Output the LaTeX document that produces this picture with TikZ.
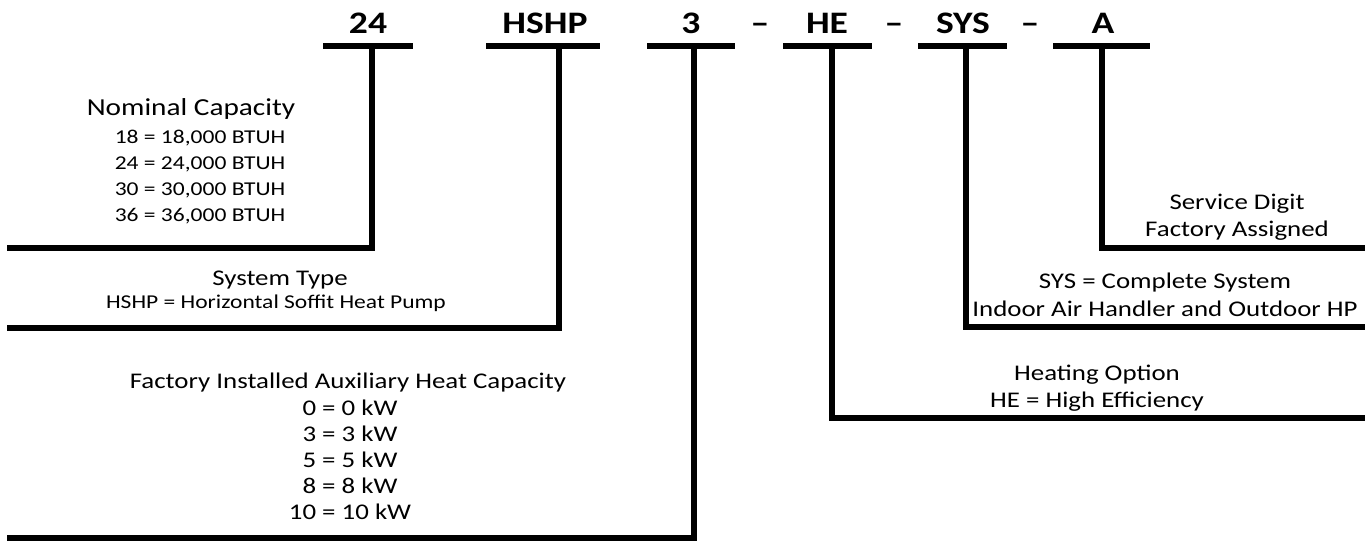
\documentclass[tikz,border=0pt]{standalone}
\usepackage{fontspec}
\setmainfont{Carlito}[FakeStretch=1.2]
\begin{document}
\begin{tikzpicture}[x=1pt,y=-1pt,
  bar/.style={line width=6pt},
  lead/.style={line width=6pt, line join=miter},
  code/.style={font=\fontsize{31.3}{36}\selectfont\bfseries, anchor=base, inner sep=0pt},
  desc/.style={font=\fontsize{22.4}{27}\selectfont, anchor=base, inner sep=0pt},
  mid/.style={font=\fontsize{19.6}{24}\selectfont, anchor=base, inner sep=0pt},
  big/.style={font=\fontsize{24.4}{29}\selectfont, anchor=base, inner sep=0pt}]
\useasboundingbox (0,0) rectangle (1365,541);

% code letters
\node[code] (n24)   at (368,33) {24};
\node[code] (nHSHP) at (545,33) {HSHP};
\node[code] (n3)    at (691,33) {3};
\node[code] (d1)    at (760,33) {–};
\node[code] (nHE)   at (827,33) {HE};
\node[code] (d2)    at (894,33) {–};
\node[code] (nSYS)  at (963,33) {SYS};
\node[code] (d3)    at (1030,33) {–};
\node[code] (nA)    at (1103,33) {A};

% bars
\coordinate (b24l) at (323,46);  \coordinate (b24r) at (413,46);
\coordinate (bHl)  at (486,46);  \coordinate (bHr)  at (600,46);
\coordinate (b3l)  at (647,46);  \coordinate (b3r)  at (735,46);
\coordinate (bEl)  at (783,46);  \coordinate (bEr)  at (872,46);
\coordinate (bSl)  at (918,46);  \coordinate (bSr)  at (1007,46);
\coordinate (bAl)  at (1053,46); \coordinate (bAr)  at (1150,46);
\foreach \l/\r in {b24l/b24r,bHl/bHr,b3l/b3r,bEl/bEr,bSl/bSr,bAl/bAr}
  \draw[bar] (\l) -- (\r);

% leader start points and ends
\coordinate (t24) at (372,46);  \coordinate (e24) at (7,248);
\coordinate (tH)  at (559,46);  \coordinate (eH)  at (7,328);
\coordinate (t3)  at (694,46);  \coordinate (e3)  at (7,538);
\coordinate (tE)  at (832,46);  \coordinate (eE)  at (1365,418);
\coordinate (tS)  at (966,46);  \coordinate (eS)  at (1365,327);
\coordinate (tA)  at (1102,46); \coordinate (eA)  at (1365,248);
\draw[lead] (t24) |- (e24);
\draw[lead] (tH) |- (eH);
\draw[lead] (t3) |- (e3);
\draw[lead] (tE) |- (eE);
\draw[lead] (tS) |- (eS);
\draw[lead] (tA) |- (eA);

% Nominal capacity
\node[big] (nc)  at (191,115) {Nominal Capacity};
\node[mid] (nc1) at (200,143) {18 = 18,000 BTUH};
\node[mid] (nc2) at (200,169) {24 = 24,000 BTUH};
\node[mid] (nc3) at (200,195) {30 = 30,000 BTUH};
\node[mid] (nc4) at (200,221) {36 = 36,000 BTUH};

% System type
\node[desc] (st)  at (280,285) {System Type};
\node[mid]  (st1) at (276,308) {HSHP = Horizontal Soffit Heat Pump};

% Aux heat
\node[desc] (ah)  at (348,388) {Factory Installed Auxiliary Heat Capacity};
\node[desc] (ah1) at (350,415) {0 = 0 kW};
\node[desc] (ah2) at (350,441) {3 = 3 kW};
\node[desc] (ah3) at (350,467) {5 = 5 kW};
\node[desc] (ah4) at (350,493) {8 = 8 kW};
\node[desc] (ah5) at (350,519) {10 = 10 kW};

% Service digit
\node[desc] (sd)  at (1237,209) {Service Digit};
\node[desc] (sd1) at (1237,236) {Factory Assigned};

% SYS
\node[desc] (sy)  at (1165,288) {SYS = Complete System};
\node[desc] (sy1) at (1165,316) {Indoor Air Handler and Outdoor HP};

% Heating option
\node[desc] (ho)  at (1097,380) {Heating Option};
\node[desc] (ho1) at (1097,407) {HE = High Efficiency};
\end{tikzpicture}
\end{document}
